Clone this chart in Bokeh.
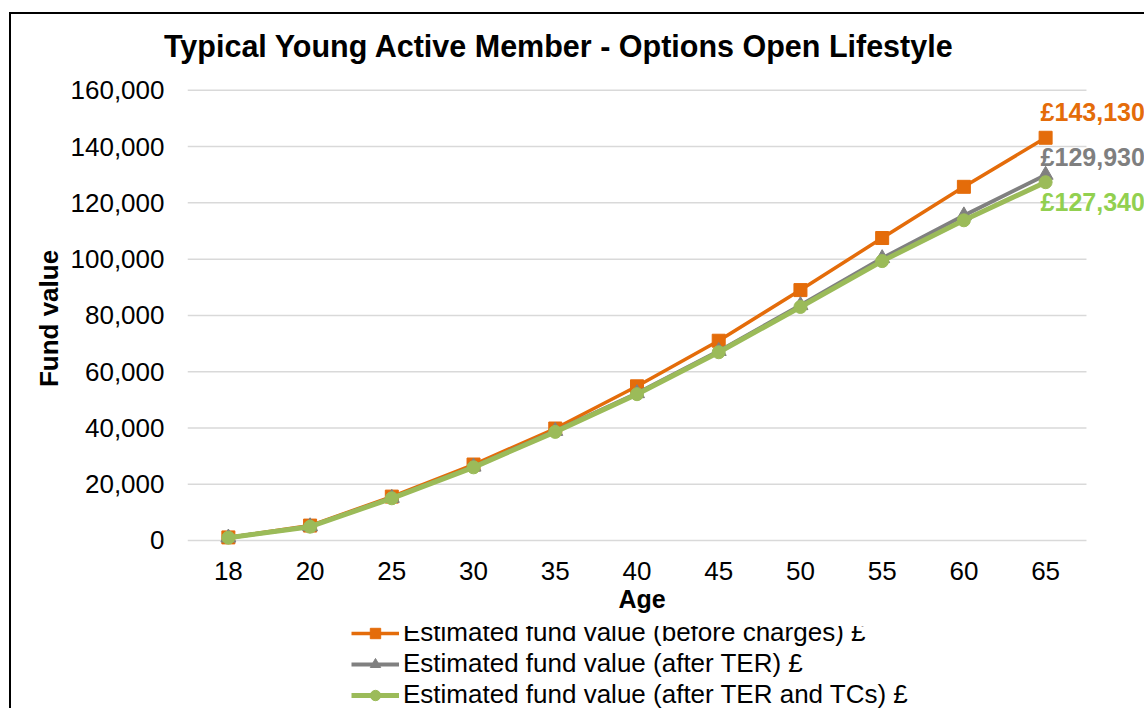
from bokeh.plotting import figure
from bokeh.layouts import column
from bokeh.models import (Range1d, FixedTicker, NumeralTickFormatter, Legend,
                          LegendItem, Label, Title, Div)
from bokeh.embed import file_html
from bokeh.resources import INLINE

ages = ["18", "20", "25", "30", "35", "40", "45", "50", "55", "60", "65"]
before_charges = [1100, 5300, 15600, 27000, 39800, 54800, 71000, 89000, 107500, 125700, 143130]
after_ter = [1000, 5000, 15100, 26200, 38900, 52300, 67300, 83600, 100300, 115500, 129930]
after_ter_tcs = [1000, 4900, 15000, 26000, 38600, 52000, 66900, 83000, 99300, 113800, 127340]
series_names = ["Estimated fund value (before charges) £",
                "Estimated fund value (after TER) £",
                "Estimated fund value (after TER and TCs) £"]
end_labels = ["£143,130", "£129,930", "£127,340"]
y_ticks = [0, 20000, 40000, 60000, 80000, 100000, 120000, 140000, 160000]
chart_title = "Typical Young Active Member - Options Open Lifestyle"

FONT = "Liberation Sans"
ORANGE, GREY, GREEN = "#E46C0A", "#808080", "#9BBB59"

# category centres on a numeric axis (so end labels can extend past the last category)
xs = [i + 0.5 for i in range(len(ages))]
n_cat = len(ages)

title_div = Div(
    text=('<div style="padding-left:153px;padding-top:17px;line-height:30px;'
          'white-space:nowrap;font-family:\'Liberation Sans\',Arial,sans-serif;'
          'font-size:30.5px;font-weight:bold;color:black">' + chart_title + '</div>'),
    width=1133, height=60, margin=0)

p = figure(x_range=Range1d(0, n_cat + 0.71), y_range=Range1d(-3200, 161000),
           width=1133, height=552, output_backend="svg", toolbar_location=None,
           min_border_left=176, min_border_right=0, min_border_top=13,
           min_border_bottom=77)
p.title = None
p.outline_line_color = None
p.background_fill_color = "white"

p.xgrid.grid_line_color = None
p.ygrid.grid_line_color = None
p.segment(x0=0, x1=n_cat, y0=y_ticks, y1=y_ticks, line_color="#D9D9D9", line_width=1.5)

p.yaxis.ticker = FixedTicker(ticks=y_ticks)
p.yaxis.formatter = NumeralTickFormatter(format="0,0")
p.xaxis.ticker = FixedTicker(ticks=xs)
p.xaxis.major_label_overrides = {x: a for x, a in zip(xs, ages)}

for ax in (p.xaxis[0], p.yaxis[0]):
    ax.axis_line_color = None
    ax.major_tick_line_color = None
    ax.minor_tick_line_color = None
    ax.major_label_text_font = FONT
    ax.major_label_text_font_size = "26px"
    ax.major_label_text_color = "black"
    ax.axis_label_text_font = FONT
    ax.axis_label_text_font_size = "25px"
    ax.axis_label_text_font_style = "bold"
    ax.axis_label_text_color = "black"

p.xaxis.major_label_standoff = 6
p.yaxis.axis_label = "Fund value"
p.yaxis.axis_label_text_font_size = "26px"
p.yaxis.major_label_standoff = 17
p.yaxis.axis_label_standoff = 4

# "Age" axis title, centred under the category span
p.add_layout(Title(text="Age", align="left", offset=431, standoff=0,
                   text_font=FONT, text_font_size="25px", text_font_style="bold",
                   text_color="black"), "below")

specs = [(before_charges, ORANGE, "square", 13, 3.5),
         (after_ter, GREY, "triangle", 15, 4),
         (after_ter_tcs, GREEN, "circle", 13, 5)]
for data, color, marker, size, lw in specs:
    p.line(xs, data, line_color=color, line_width=lw)
    p.scatter(xs, data, marker=marker, size=size, fill_color=color, line_color=color)

label_colors = [ORANGE, "#7F7F7F", "#92D050"]
label_offsets = [26, 18, -20]
for data, txt, col, off in zip([before_charges, after_ter, after_ter_tcs], end_labels,
                                label_colors, label_offsets):
    p.add_layout(Label(x=xs[-1], y=data[-1], text=txt, x_offset=-5, y_offset=off,
                       text_font=FONT, text_font_size="25px", text_font_style="bold",
                       text_color=col, text_baseline="middle", text_align="left"))

# legend strip underneath the chart
p2 = figure(x_range=Range1d(0, 1), y_range=Range1d(0, 1), width=1133, height=82,
            output_backend="svg", toolbar_location=None,
            min_border_left=0, min_border_right=0, min_border_top=0, min_border_bottom=0)
p2.axis.visible = False
p2.grid.visible = False
p2.outline_line_color = None
items = []
for (data, color, marker, size, lw), name in zip(specs, series_names):
    r1 = p2.line(xs, data, line_color=color, line_width=lw)
    r2 = p2.scatter(xs, data, marker=marker, size=size, fill_color=color, line_color=color)
    items.append(LegendItem(label=name, renderers=[r1, r2]))

legend = Legend(items=items, location=(164, -2), orientation="vertical")
legend.label_text_font = FONT
legend.label_text_font_size = "26px"
legend.label_text_color = "black"
legend.glyph_width = 48
legend.glyph_height = 26
legend.label_height = 26
legend.label_standoff = 4
legend.spacing = 0
legend.padding = 0
legend.margin = 0
legend.border_line_color = None
legend.background_fill_alpha = 0
p2.add_layout(legend, "center")

box = column(title_div, p, p2, spacing=0,
             styles={"border-left": "2.5px solid black", "border-top": "2.5px solid black",
                     "margin-left": "9px", "margin-top": "12px"})
open("out.html", "w").write(file_html(box, INLINE))
